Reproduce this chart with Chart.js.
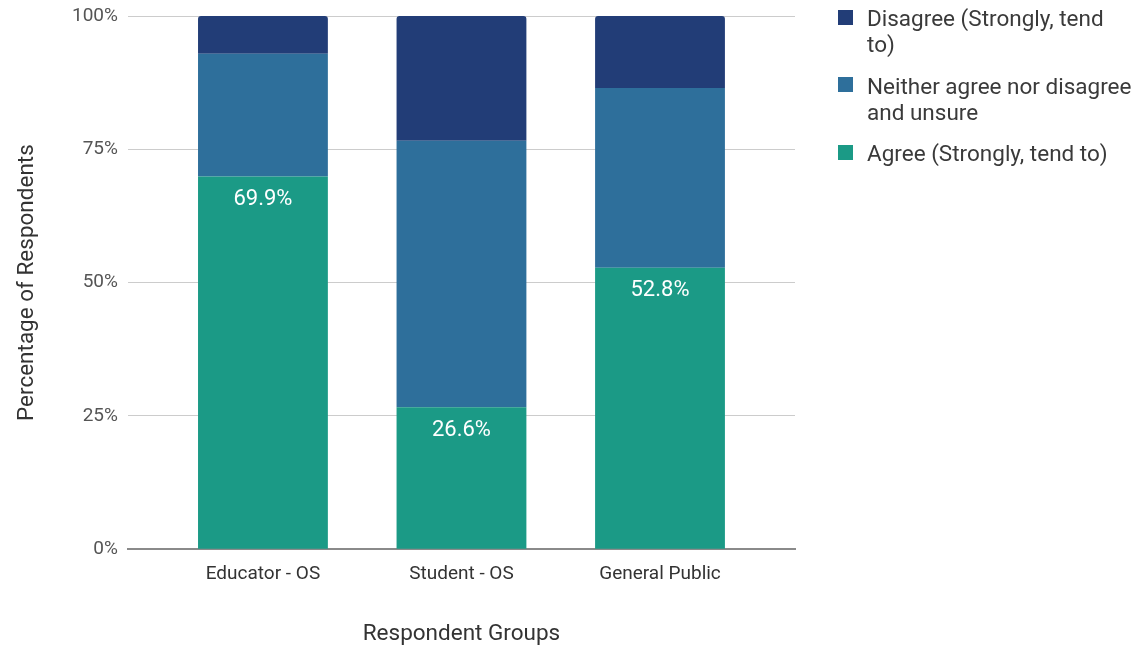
<!DOCTYPE html>
<html>
<head>
<meta charset="utf-8">
<script src="https://cdn.jsdelivr.net/npm/chart.js@4.4.1/dist/chart.umd.min.js"></script>
<style>
  html, body { margin: 0; padding: 0; background: #fff; }
  #wrap { position: relative; width: 1136px; height: 645px; }
  #legend {
    position: absolute; left: 837px; top: 5px; width: 299px;
    font-family: Roboto, sans-serif; font-size: 22.5px; color: #3a3a3a;
  }
  .item { display: flex; align-items: flex-start; margin-bottom: 15.5px; line-height: 26px; }
  .box { width: 15px; height: 15px; flex: none; margin: 4.5px 14px 0 1px; }
</style>
</head>
<body>
<div id="wrap">
  <canvas id="chart" width="1136" height="645"></canvas>
  <div id="legend"></div>
</div>
<script>
const categories = ['Educator - OS', 'Student - OS', 'General Public'];
const agree = [69.9, 26.6, 52.8];
const neither = [23.0, 50.0, 33.7];
const disagree = [7.1, 23.4, 13.5];
const yTicks = [0, 25, 50, 75, 100];

const series = [
  { label: 'Agree (Strongly, tend to)', values: agree, color: '#1b9a86' },
  { label: 'Neither agree nor disagree and unsure', values: neither, color: '#2e6f9b' },
  { label: 'Disagree (Strongly, tend to)', values: disagree, color: '#223d77' }
];

// White percentage labels inside the agree segments
const agreeLabels = {
  id: 'agreeLabels',
  afterDatasetsDraw(chart) {
    const ctx = chart.ctx;
    const meta = chart.getDatasetMeta(0);
    ctx.save();
    ctx.fillStyle = '#ffffff';
    ctx.font = '22px Roboto';
    ctx.textAlign = 'center';
    ctx.textBaseline = 'middle';
    meta.data.forEach((bar, i) => {
      ctx.fillText(agree[i].toFixed(1) + '%', bar.x, bar.y + 23);
    });
    ctx.restore();
  }
};

const chart = new Chart(document.getElementById('chart'), {
  type: 'bar',
  data: {
    datasets: series.map(s => ({
      label: s.label,
      data: s.values.map((v, i) => ({ x: i, y: v })),
      backgroundColor: s.color,
      borderWidth: 0,
      borderRadius: s.values === disagree ? { topLeft: 3, topRight: 3 } : 0,
      borderSkipped: false,
      barPercentage: 0.654,
      categoryPercentage: 1
    }))
  },
  options: {
    responsive: false,
    animation: false,
    layout: { padding: { top: 16, right: 341, left: 10, bottom: -3 } },
    plugins: {
      legend: { display: false },
      tooltip: { enabled: false }
    },
    scales: {
      x: {
        type: 'linear',
        stacked: true,
        offset: false,
        min: -0.68,
        max: 2.68,
        afterBuildTicks: (scale) => {
          scale.ticks = categories.map((_, i) => ({ value: i }));
        },
        grid: { display: false, drawTicks: false },
        border: { display: true, color: '#8a8a8a', width: 2 },
        ticks: {
          callback: (v) => categories[v],
          color: '#333',
          font: { family: 'Roboto', size: 19 },
          padding: 14,
          maxRotation: 0,
          autoSkip: false
        },
        title: {
          display: true,
          text: 'Respondent Groups',
          color: '#333',
          font: { family: 'Roboto', size: 22.5 },
          padding: { top: 21, bottom: 0 }
        }
      },
      y: {
        stacked: true,
        min: 0,
        max: 100,
        afterBuildTicks: (scale) => {
          scale.ticks = yTicks.map(v => ({ value: v }));
        },
        // let the top tick label hang above the plot instead of pushing it down
        afterFit: (scale) => {
          scale.paddingTop = 0;
          scale.paddingBottom = 0;
        },
        grid: { color: '#cccccc', drawTicks: false },
        border: { display: false },
        ticks: {
          callback: (v) => v + '%',
          color: '#555',
          font: { family: 'Roboto', size: 19 },
          padding: 10
        },
        title: {
          display: true,
          text: 'Percentage of Respondents',
          color: '#333',
          font: { family: 'Roboto', size: 22.5 },
          padding: { top: 4, bottom: 21 }
        }
      }
    }
  },
  plugins: [agreeLabels]
});

// Legend listed top-down in the same order as the stack
const legendEl = document.getElementById('legend');
chart.data.datasets.slice().reverse().forEach(ds => {
  const item = document.createElement('div');
  item.className = 'item';
  item.innerHTML = `<div class="box" style="background:${ds.backgroundColor}"></div><div>${ds.label}</div>`;
  legendEl.appendChild(item);
});
</script>
</body>
</html>
